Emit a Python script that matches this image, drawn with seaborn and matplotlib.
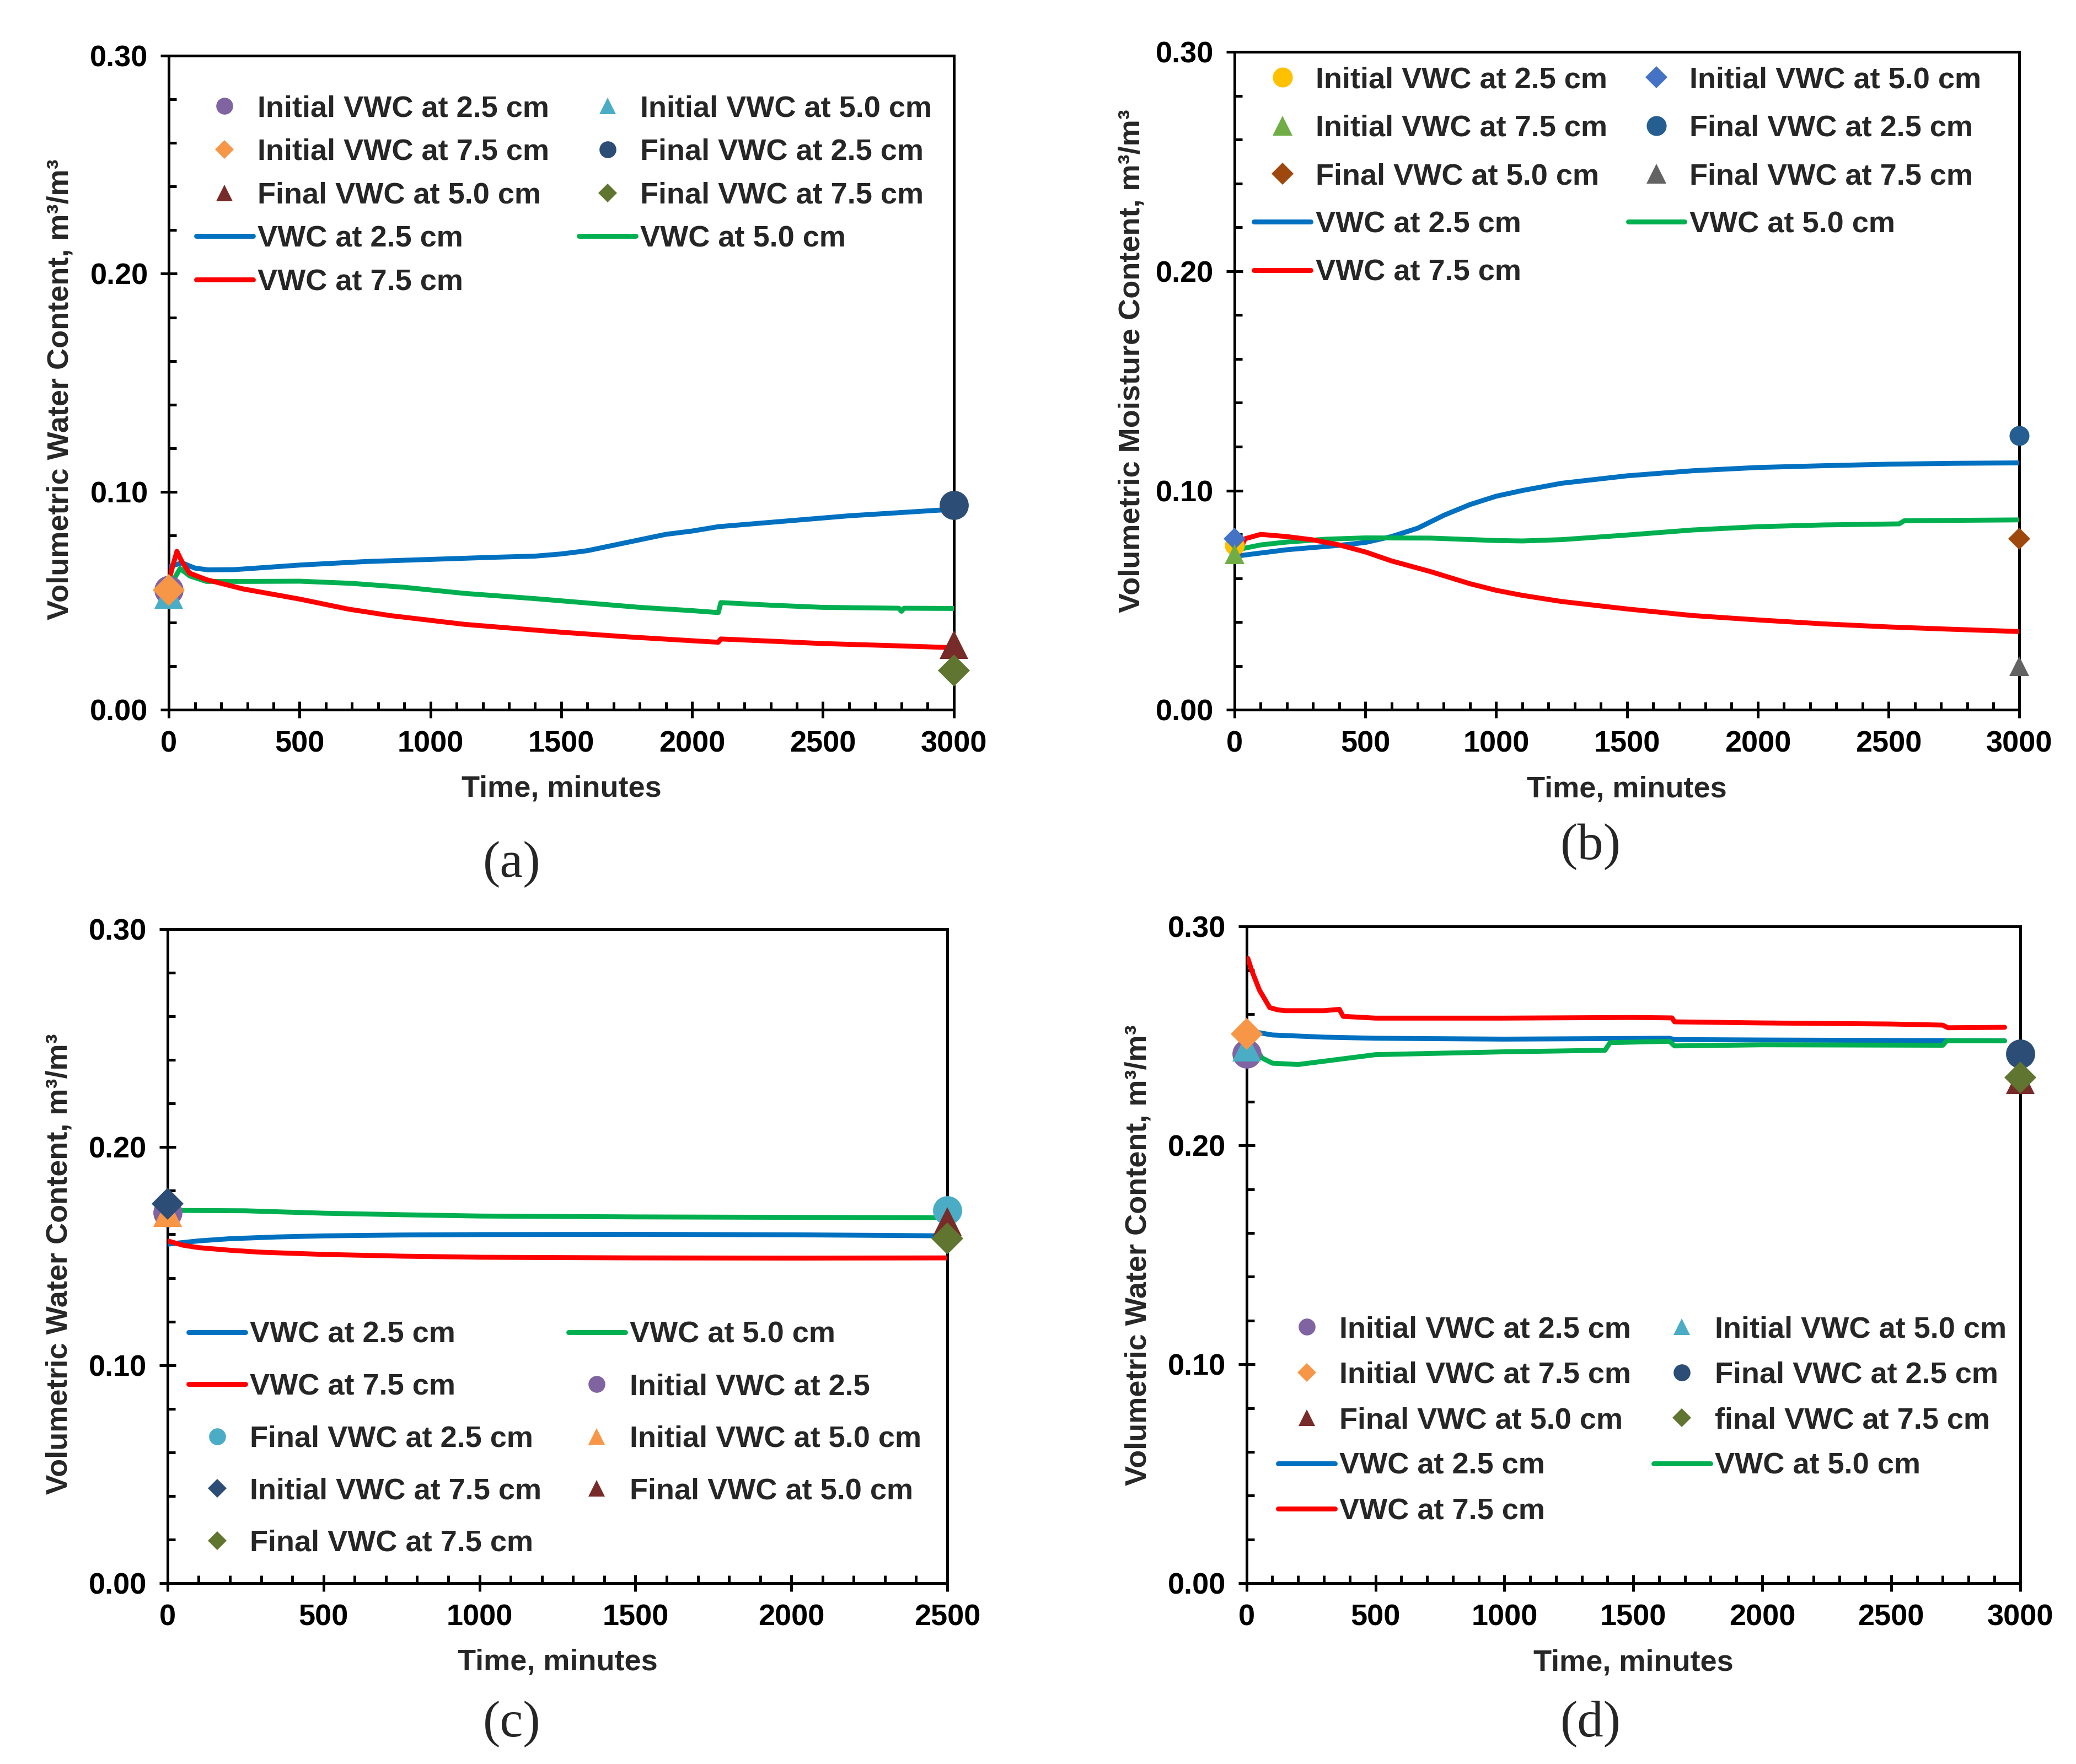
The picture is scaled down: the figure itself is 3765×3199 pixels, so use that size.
import numpy as np
import pandas as pd
import matplotlib
matplotlib.use("Agg")
import matplotlib.pyplot as plt
from matplotlib.ticker import MultipleLocator, FormatStrFormatter
import seaborn as sns

# ---- Panel (a) ----
a_t_25 = [0, 10, 50, 100, 150, 250, 500, 750, 1000, 1250, 1400, 1500, 1600, 1700, 1800, 1900, 2000, 2100, 2200, 2400, 2600, 2800, 3000]
a_v_25 = [0.0655, 0.066, 0.0674, 0.065, 0.0642, 0.0643, 0.0664, 0.068, 0.069, 0.0700, 0.0705, 0.0715, 0.073, 0.0755, 0.078, 0.0805, 0.082, 0.084, 0.085, 0.087, 0.089, 0.0905, 0.092]
a_t_50 = [0, 20, 43, 80, 144, 300, 500, 700, 900, 1131, 1400, 1600, 1800, 2000, 2100, 2110, 2300, 2500, 2790, 2800, 2810, 3000]
a_v_50 = [0.0576, 0.060, 0.0648, 0.0614, 0.0589, 0.0589, 0.0590, 0.058, 0.0562, 0.0534, 0.051, 0.049, 0.047, 0.0455, 0.0446, 0.0492, 0.048, 0.047, 0.0466, 0.0452, 0.0466, 0.0465]
a_t_75 = [0, 15, 31, 50, 79, 144, 200, 282, 500, 686, 848, 1131, 1500, 1750, 2000, 2100, 2110, 2300, 2500, 2750, 3000]
a_v_75 = [0.059, 0.066, 0.0727, 0.068, 0.0627, 0.0597, 0.058, 0.0555, 0.0508, 0.0462, 0.0432, 0.0392, 0.0356, 0.0335, 0.0317, 0.0310, 0.0325, 0.0315, 0.0304, 0.0295, 0.0285]
a_pt_labels = ["Initial VWC at 2.5 cm", "Initial VWC at 5.0 cm", "Initial VWC at 7.5 cm",
               "Final VWC at 2.5 cm", "Final VWC at 5.0 cm", "Final VWC at 7.5 cm"]
a_pt_time = [0, 0, 0, 3000, 3000, 3000]
a_pt_vwc = [0.055, 0.053, 0.055, 0.094, 0.030, 0.018]

# ---- Panel (b) ----
b_t_25 = [0, 100, 200, 300, 400, 500, 600, 700, 800, 900, 1000, 1100, 1250, 1500, 1750, 2000, 2250, 2500, 2750, 3000]
b_v_25 = [0.070, 0.0715, 0.073, 0.074, 0.075, 0.0763, 0.079, 0.0828, 0.0887, 0.0936, 0.0974, 0.1000, 0.1033, 0.1067, 0.1090, 0.1105, 0.1113, 0.1120, 0.1124, 0.1126]
b_t_50 = [0, 30, 100, 200, 350, 500, 750, 1000, 1100, 1250, 1500, 1750, 2000, 2250, 2540, 2560, 2750, 3000]
b_v_50 = [0.072, 0.0735, 0.0752, 0.0765, 0.0778, 0.0784, 0.0783, 0.0772, 0.0770, 0.0776, 0.0797, 0.0820, 0.0835, 0.0843, 0.0848, 0.0862, 0.0864, 0.0866]
b_t_75 = [0, 15, 40, 100, 200, 300, 400, 500, 600, 750, 900, 1000, 1100, 1250, 1500, 1750, 2000, 2250, 2500, 2750, 3000]
b_v_75 = [0.073, 0.071, 0.078, 0.080, 0.079, 0.0775, 0.0752, 0.072, 0.0679, 0.063, 0.0575, 0.0545, 0.0522, 0.0494, 0.046, 0.043, 0.041, 0.0392, 0.0378, 0.0367, 0.0357]
b_pt_labels = a_pt_labels
b_pt_time = [0, 0, 0, 3000, 3000, 3000]
b_pt_vwc = [0.075, 0.078, 0.071, 0.125, 0.078, 0.020]

# ---- Panel (c) ----
c_t_25 = [0, 100, 200, 350, 500, 750, 1000, 1500, 2000, 2500]
c_v_25 = [0.1555, 0.1570, 0.1580, 0.1588, 0.1593, 0.1597, 0.1599, 0.1600, 0.1598, 0.1593]
c_t_50 = [0, 250, 500, 750, 1000, 1500, 2000, 2500]
c_v_50 = [0.1710, 0.1708, 0.1697, 0.1690, 0.1684, 0.1680, 0.1678, 0.1676]
c_t_75 = [0, 50, 100, 200, 300, 500, 750, 1000, 1500, 2000, 2500]
c_v_75 = [0.1570, 0.1550, 0.1539, 0.1527, 0.1518, 0.1508, 0.1500, 0.1495, 0.1492, 0.1491, 0.1492]
c_pt_labels = ["Initial VWC at 2.5", "Final VWC at 2.5 cm", "Initial VWC at 5.0 cm",
               "Initial VWC at 7.5 cm", "Final VWC at 5.0 cm", "Final VWC at 7.5 cm"]
c_pt_time = [0, 2500, 0, 0, 2500, 2500]
c_pt_vwc = [0.170, 0.171, 0.170, 0.174, 0.166, 0.158]

# ---- Panel (d) ----
d_t_25 = [10, 50, 100, 300, 500, 1000, 1640, 1660, 2000, 2500, 2940]
d_v_25 = [0.2530, 0.2515, 0.2505, 0.2495, 0.2490, 0.2486, 0.2490, 0.2484, 0.2482, 0.2480, 0.2478]
d_t_50 = [5, 30, 60, 100, 200, 400, 500, 1000, 1390, 1410, 1640, 1660, 2000, 2700, 2715, 2940]
d_v_50 = [0.2520, 0.2453, 0.2400, 0.2376, 0.2370, 0.2400, 0.2415, 0.2428, 0.2435, 0.2470, 0.2476, 0.2455, 0.2460, 0.2458, 0.2478, 0.2478]
d_t_75 = [5, 20, 50, 70, 90, 120, 150, 300, 360, 375, 500, 1000, 1500, 1650, 1660, 2000, 2500, 2700, 2720, 2940]
d_v_75 = [0.2855, 0.280, 0.271, 0.267, 0.263, 0.2620, 0.2616, 0.2616, 0.2622, 0.2590, 0.2582, 0.2582, 0.2585, 0.2583, 0.2565, 0.2560, 0.2555, 0.2550, 0.2538, 0.2540]
d_pt_labels = ["Initial VWC at 2.5 cm", "Initial VWC at 5.0 cm", "Initial VWC at 7.5 cm",
               "Final VWC at 2.5 cm", "Final VWC at 5.0 cm", "final VWC at 7.5 cm"]
d_pt_time = [0, 0, 0, 3000, 3000, 3000]
d_pt_vwc = [0.242, 0.245, 0.251, 0.242, 0.230, 0.231]

line_labels = ["VWC at 2.5 cm", "VWC at 5.0 cm", "VWC at 7.5 cm"]
line_colors = ["#0070C0", "#00B050", "#FF0000"]

# Marker styles (Excel default palettes).
office_markers = ["o", "^", "D", "o", "^", "D"]
office_colors = ["#8064A2", "#4BACC6", "#F79646", "#2C4D75", "#772C2A", "#5F7530"]
b_markers = ["o", "D", "^", "o", "D", "^"]
b_colors = ["#FFC000", "#4472C4", "#70AD47", "#255E91", "#9E480E", "#636363"]
c_markers = ["o", "o", "^", "D", "^", "D"]
c_colors = ["#8064A2", "#4BACC6", "#F79646", "#2C4D75", "#772C2A", "#5F7530"]

sns.set_theme(style="ticks")
plt.rcParams["font.family"] = ["Liberation Sans", "DejaVu Sans"]
plt.rcParams["font.weight"] = "bold"
plt.rcParams["axes.labelweight"] = "bold"
plt.rcParams["axes.edgecolor"] = "black"
plt.rcParams["xtick.color"] = "black"
plt.rcParams["ytick.color"] = "black"

FS = 19.5

panels = [
    dict(pos=[0.0813, 0.5976, 0.3780, 0.3708], xmax=3000,
         lines=[(a_t_25, a_v_25), (a_t_50, a_v_50), (a_t_75, a_v_75)],
         pts=(a_pt_labels, a_pt_time, a_pt_vwc), markers=office_markers, colors=office_colors,
         msize=19, mscale=0.58, ylabel="Volumetric Water Content, m³/m³", ylab=(-0.138, 0.49),
         rows=[[a_pt_labels[0], a_pt_labels[1]], [a_pt_labels[2], a_pt_labels[3]],
               [a_pt_labels[4], a_pt_labels[5]], [line_labels[0], line_labels[1]], [line_labels[2]]],
         leg=dict(loc="upper left", bbox_to_anchor=(0.035, 0.94), labelspacing=0.53, columnspacing=1.0),
         tag="(a)", tagpos=(0.2465, 0.51)),
    dict(pos=[0.5945, 0.5976, 0.3780, 0.3730], xmax=3000,
         lines=[(b_t_25, b_v_25), (b_t_50, b_v_50), (b_t_75, b_v_75)],
         pts=(b_pt_labels, b_pt_time, b_pt_vwc), markers=b_markers, colors=b_colors,
         msize=13, mscale=1.0, ylabel="Volumetric Moisture Content, m³/m³", ylab=(-0.131, 0.53),
         rows=[[b_pt_labels[0], b_pt_labels[1]], [b_pt_labels[2], b_pt_labels[3]],
               [b_pt_labels[4], b_pt_labels[5]], [line_labels[0], line_labels[1]], [line_labels[2]]],
         leg=dict(loc="upper left", bbox_to_anchor=(0.025, 0.978), labelspacing=0.69, columnspacing=0.7),
         tag="(b)", tagpos=(0.766, 0.52)),
    dict(pos=[0.0807, 0.1025, 0.3755, 0.3708], xmax=2500,
         lines=[(c_t_25, c_v_25), (c_t_50, c_v_50), (c_t_75, c_v_75)],
         pts=(c_pt_labels, c_pt_time, c_pt_vwc), markers=c_markers, colors=c_colors,
         msize=19, mscale=0.58, ylabel="Volumetric Water Content, m³/m³", ylab=(-0.139, 0.488),
         rows=[[line_labels[0], line_labels[1]], [line_labels[2], c_pt_labels[0]],
               [c_pt_labels[1], c_pt_labels[2]], [c_pt_labels[3], c_pt_labels[4]], [c_pt_labels[5]]],
         leg=dict(loc="lower left", bbox_to_anchor=(0.027, 0.04), labelspacing=0.82, columnspacing=0.9),
         tag="(c)", tagpos=(0.2465, 0.0226)),
    dict(pos=[0.6003, 0.1025, 0.3725, 0.3722], xmax=3000,
         lines=[(d_t_25, d_v_25), (d_t_50, d_v_50), (d_t_75, d_v_75)],
         pts=(d_pt_labels, d_pt_time, d_pt_vwc), markers=office_markers, colors=office_colors,
         msize=19, mscale=0.58, ylabel="Volumetric Water Content, m³/m³", ylab=(-0.140, 0.50),
         rows=[[d_pt_labels[0], d_pt_labels[1]], [d_pt_labels[2], d_pt_labels[3]],
               [d_pt_labels[4], d_pt_labels[5]], [line_labels[0], line_labels[1]], [line_labels[2]]],
         leg=dict(loc="lower left", bbox_to_anchor=(0.041, 0.088), labelspacing=0.6, columnspacing=0.75),
         tag="(d)", tagpos=(0.766, 0.0226)),
]

fig = plt.figure(figsize=(3766 / 200, 3199 / 200), dpi=200)

for p in panels:
    ax = fig.add_axes(p["pos"])

    # Time series lines.
    for (t, v), lab, col in zip(p["lines"], line_labels, line_colors):
        sns.lineplot(x=t, y=v, color=col, linewidth=3.2, label=lab, ax=ax,
                     estimator=None, sort=False, zorder=3)

    # Initial / final point readings.
    labs, times, vals = p["pts"]
    for lab, t, v, mk, col in zip(labs, times, vals, p["markers"], p["colors"]):
        ms = p["msize"] * (0.78 if mk == "D" else 1.0)
        ax.plot([t], [v], linestyle="none", marker=mk, markersize=ms, color=col,
                markeredgewidth=0, label=lab, clip_on=False, zorder=4)

    ax.set_xlim(0, p["xmax"])
    ax.set_ylim(0, 0.30)
    ax.xaxis.set_major_locator(MultipleLocator(500))
    ax.xaxis.set_minor_locator(MultipleLocator(100))
    ax.yaxis.set_major_locator(MultipleLocator(0.10))
    ax.yaxis.set_minor_locator(MultipleLocator(0.02))
    ax.yaxis.set_major_formatter(FormatStrFormatter("%.2f"))
    ax.tick_params(which="major", direction="inout", length=11, width=1.8, labelsize=FS, pad=8)
    ax.tick_params(which="minor", direction="in", length=5, width=1.8)
    for s in ax.spines.values():
        s.set_visible(True)
        s.set_linewidth(1.8)
        s.set_color("black")
    for lab in ax.get_xticklabels() + ax.get_yticklabels():
        lab.set_fontweight("bold")

    ax.set_xlabel("Time, minutes", fontsize=FS, fontweight="bold")
    ax.xaxis.set_label_coords(0.5, -0.10)
    ax.set_ylabel(p["ylabel"], fontsize=FS, fontweight="bold", va="center")
    ax.yaxis.set_label_coords(*p["ylab"])

    # Legend: rows as in the reference, converted to column-major order.
    handles, labels = ax.get_legend_handles_labels()
    lookup = dict(zip(labels, handles))
    col1 = [r[0] for r in p["rows"]]
    col2 = [r[1] for r in p["rows"] if len(r) > 1]
    order = col1 + col2
    ax.legend([lookup[l] for l in order], order, ncol=2, frameon=False,
              markerscale=p["mscale"], handlelength=1.9, handletextpad=0.15,
              borderaxespad=0, borderpad=0, prop=dict(weight="bold", size=FS), **p["leg"])

    fig.text(p["tagpos"][0], p["tagpos"][1], p["tag"], ha="center", va="center",
             fontsize=34, family=["Liberation Serif", "DejaVu Serif"], fontweight="normal")

fig.savefig("out.png", dpi=200, facecolor="white")
